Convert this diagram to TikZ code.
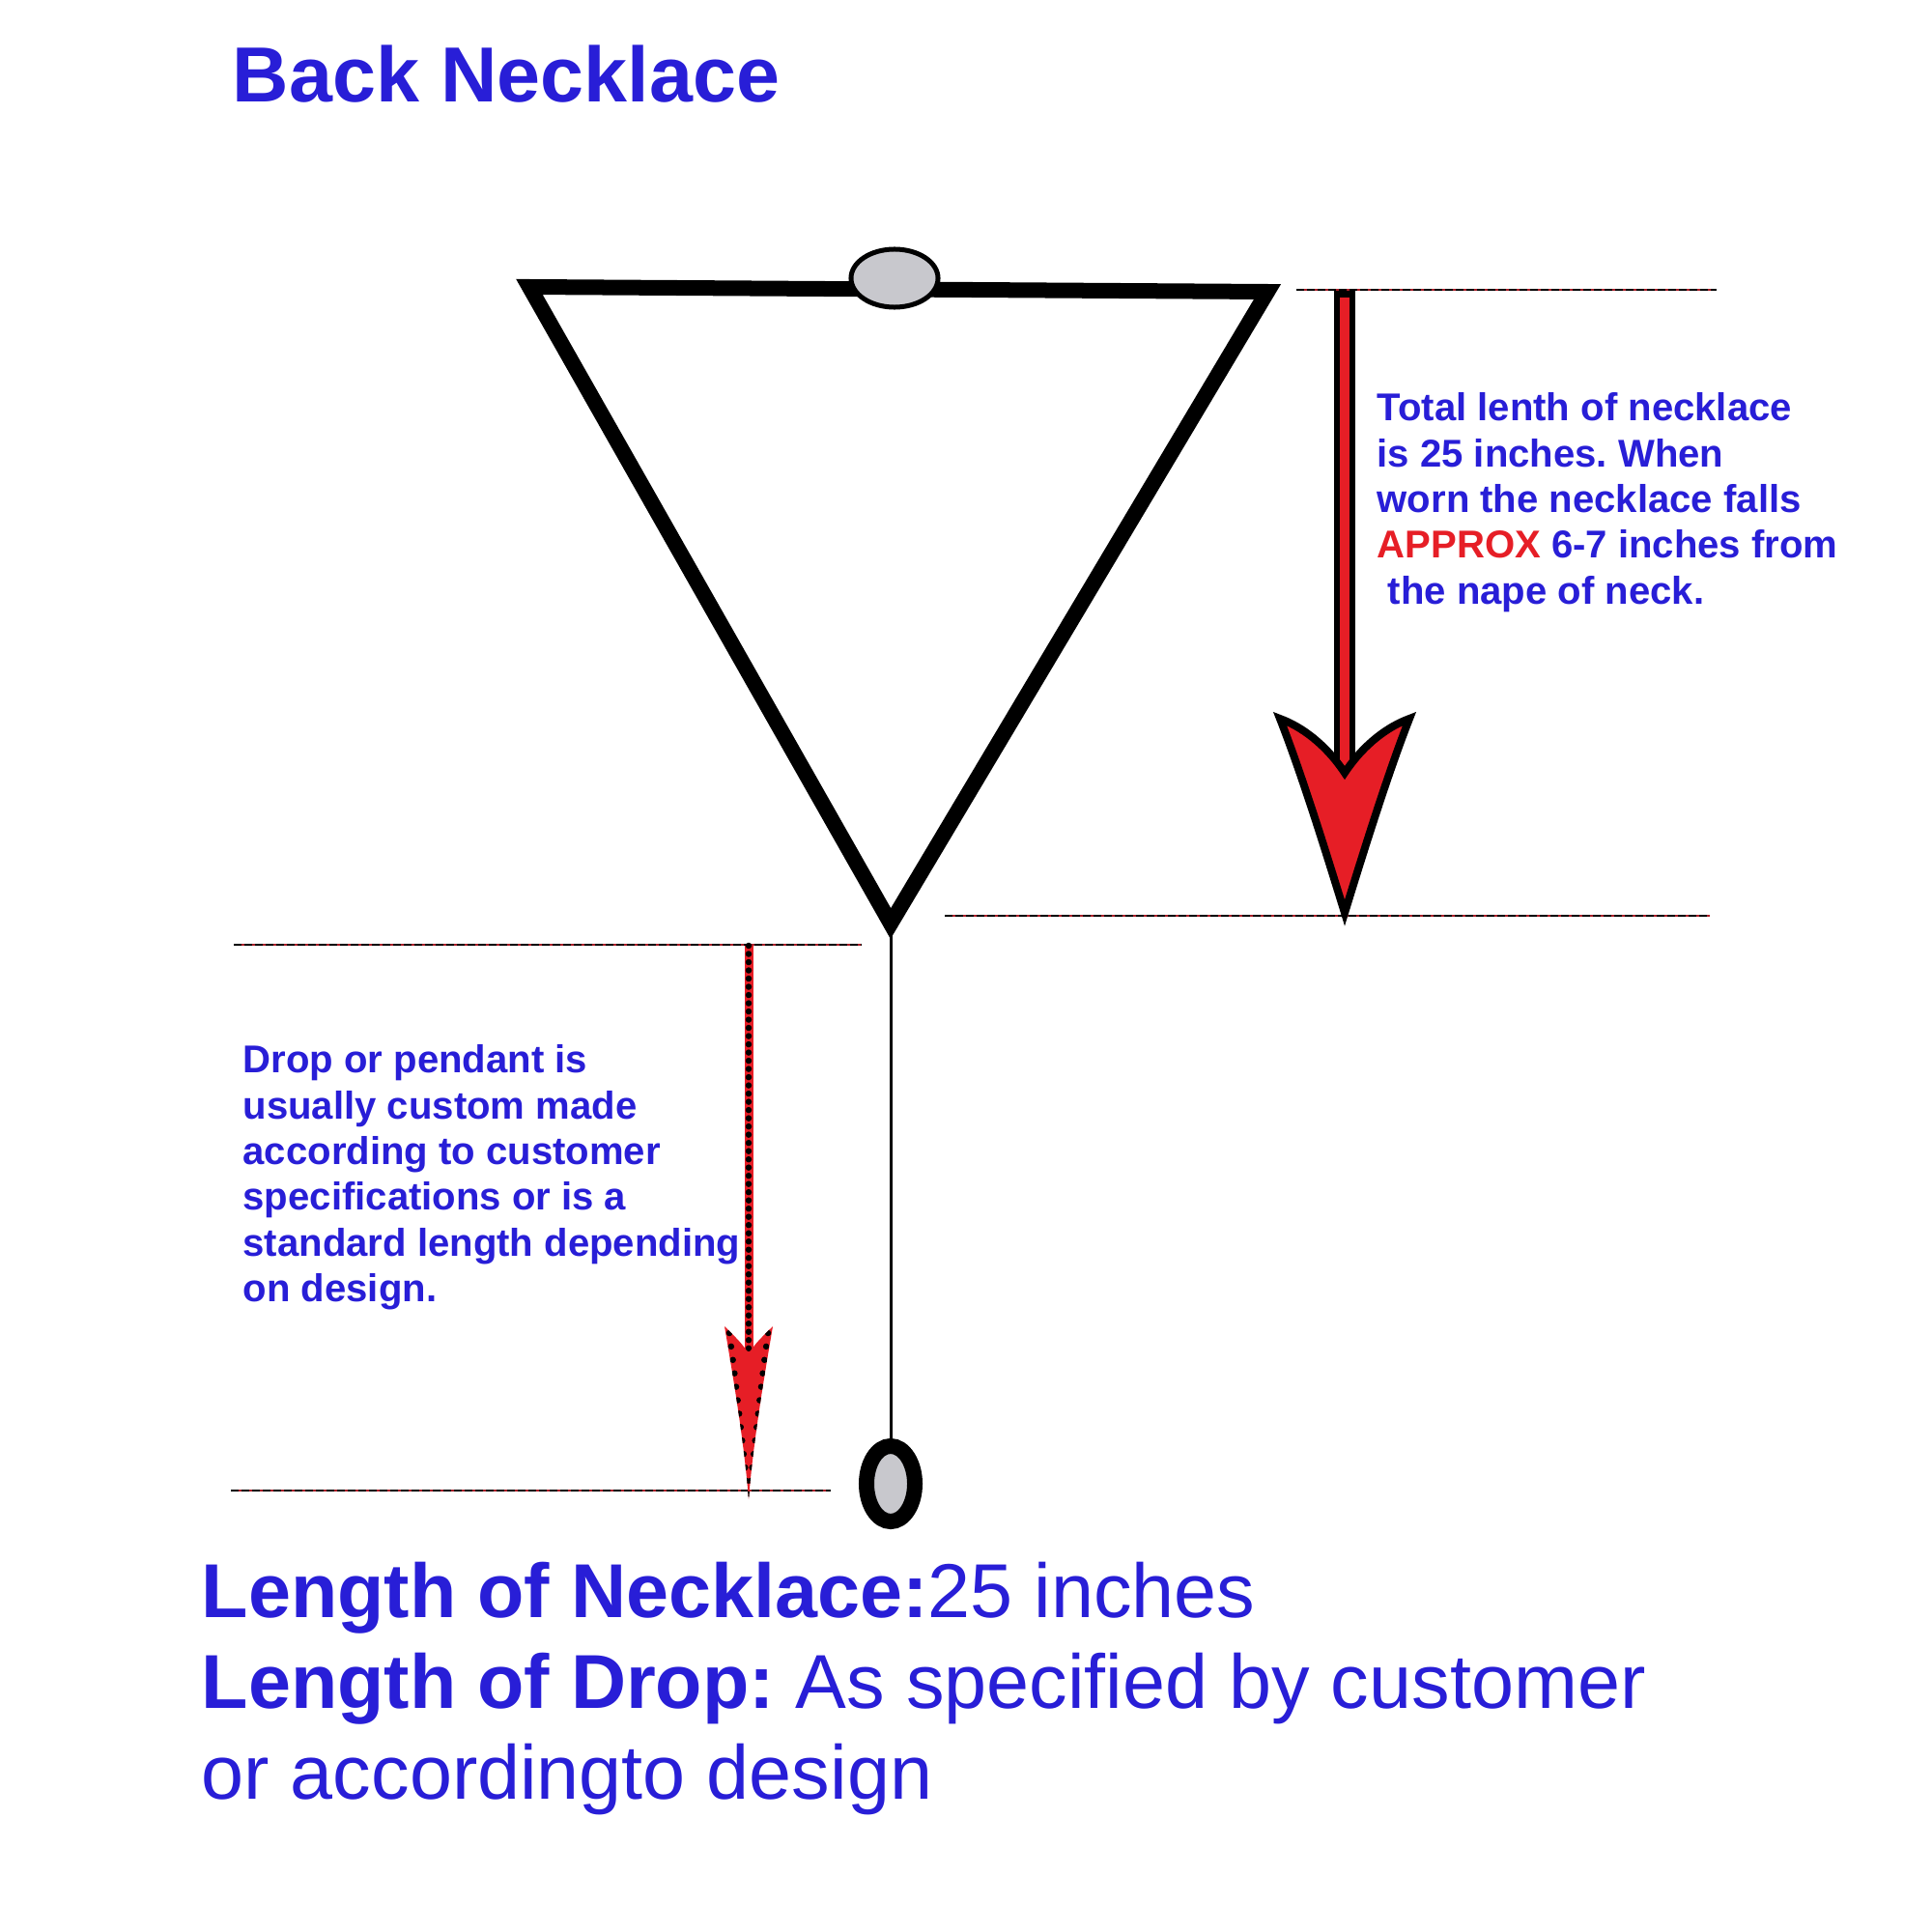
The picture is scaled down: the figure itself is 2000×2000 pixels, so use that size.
\documentclass[tikz,border=0pt]{standalone}
\usepackage{fontspec}
\setmainfont{Liberation Sans}
\usepackage{tikz}
\usetikzlibrary{shapes.geometric}
\frenchspacing
\definecolor{inkblue}{RGB}{40,30,215}
\definecolor{arrowred}{RGB}{230,30,38}
\definecolor{beadgrey}{RGB}{200,200,205}
\definecolor{guidered}{RGB}{170,30,40}
\tikzset{
  cord/.style={line width=1.6mm, line join=miter},
  guide/.style={draw=guidered, line width=0.18mm,
    postaction={draw=black, line width=0.18mm, dash pattern=on 0.8mm off 0.3mm}},
  note/.style={text=inkblue, font=\fontsize{11.4}{13.46}\selectfont\bfseries,
    align=left, inner sep=0pt, anchor=north west},
  big/.style={text=inkblue, font=\fontsize{22.5}{26.9}\selectfont,
    inner sep=0pt, anchor=base west},
  bead/.style={ellipse, draw=black, fill=beadgrey, inner sep=0pt},
  headdots/.style={black, line width=0.65mm, line cap=round, dash pattern=on 0pt off 1.4mm}
}

\begin{document}
\begin{tikzpicture}[x=0.01cm, y=-0.01cm]
\fill[white] (0,0) rectangle (2000,2000);
\useasboundingbox (0,0) rectangle (2000,2000);

\node[big, font=\fontsize{23}{28}\selectfont\bfseries] (title) at (240,106) {Back Necklace};

% guide lines
\coordinate (g1a) at (1342,300);
\coordinate (g1b) at (1777,300);
\coordinate (g2a) at (978,948);
\coordinate (g2b) at (1770,948);
\coordinate (g3a) at (242,978);
\coordinate (g3b) at (892,978);
\coordinate (g4a) at (239,1543);
\coordinate (g4b) at (860,1543);
\draw[guide] (g1a) -- (g1b);
\draw[guide] (g2a) -- (g2b);
\draw[guide] (g3a) -- (g3b);
\draw[guide] (g4a) -- (g4b);

% necklace
\coordinate (tl) at (548,297);
\coordinate (tr) at (1312,302);
\coordinate (bv) at (922,956);
\draw[cord] (tl) -- (tr) -- (bv) -- cycle;
\node[bead, minimum width=9mm, minimum height=6mm, line width=0.5mm] (clasp) at (926,288) {};

% drop
\node[bead, minimum width=5mm, minimum height=7.8mm, line width=1.6mm] (drop bead) at (922,1536) {};
\draw[line width=0.3mm] (bv) -- (drop bead.north);

% total length arrow
\coordinate (ra top) at (1392,301);
\coordinate (ra notch) at (1392,800);
\coordinate (ra tip) at (1392,945);
\draw[line width=2.2mm] (ra top) -- (ra notch);
\draw[arrowred, line width=1mm] ([yshift=-0.7mm]ra top) -- (ra notch);
\filldraw[fill=arrowred, draw=black, line width=0.8mm]
  (ra tip) .. controls (1372,880) and (1347,800) .. (1325,744)
  .. controls (1347,752) and (1372,770) .. (ra notch)
  .. controls (1412,770) and (1437,752) .. (1459,744)
  .. controls (1437,800) and (1412,880) .. (ra tip) -- cycle;

% drop length arrow
\coordinate (la top) at (775,979);
\coordinate (la notch) at (775,1402);
\coordinate (la tip) at (775,1552);
\draw[arrowred, line width=0.9mm] (la top) -- (la notch);
\draw[black, line width=0.65mm, line cap=round, dash pattern=on 0pt off 0.85mm] (la top) -- (la notch);
\begin{scope}
\clip (la tip) .. controls (770,1490) and (758,1420) .. (750,1373)
  .. controls (760,1383) and (770,1392) .. (la notch)
  .. controls (780,1392) and (790,1383) .. (800,1373)
  .. controls (792,1420) and (780,1490) .. (la tip) -- cycle;
\fill[arrowred] (700,1350) rectangle (850,1560);
\draw[headdots] (755,1380) .. controls (762,1430) and (768,1490) .. (la tip);
\draw[headdots] (795,1380) .. controls (788,1430) and (782,1490) .. (la tip);
\end{scope}

% texts
\node[note] (total) at (1425,406) {Total lenth of necklace\\is 25 inches. When\\worn the necklace falls\\\textcolor{arrowred}{APPROX} 6-7 inches from\\~the nape of neck.};
\node[note] (drop note) at (251,1081) {Drop or pendant is\\usually custom made\\according to customer\\specifications or is a\\standard length depending\\on design.};

\node[big] (length) at (208,1674) {\textbf{Length of Necklace:}25 inches};
\node[big] (droplen) at (208,1768) {\textbf{Length of Drop:} As specified by customer};
\node[big] (design) at (208,1862) {or accordingto design};
\end{tikzpicture}
\end{document}
